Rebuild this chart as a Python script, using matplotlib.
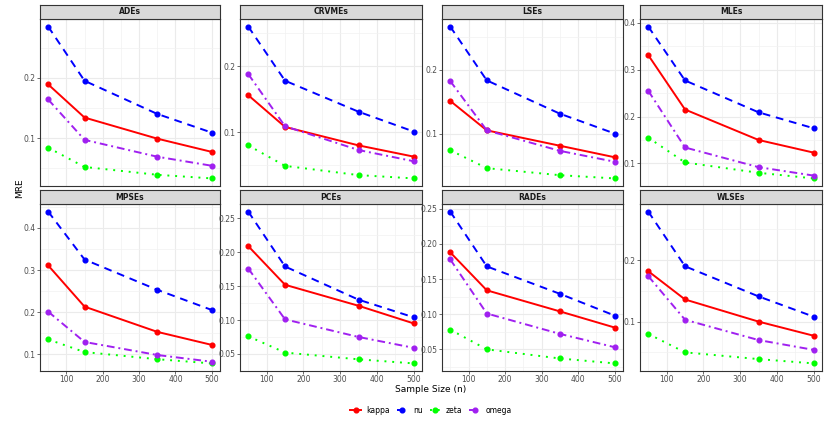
import matplotlib
matplotlib.use("Agg")
import matplotlib.pyplot as plt
import matplotlib.ticker as mticker
import numpy as np

# sample sizes and estimator panels
sizes = [50, 150, 350, 500]
methods = ["ADEs", "CRVMEs", "LSEs", "MLEs", "MPSEs", "PCEs", "RADEs", "WLSEs"]

# MRE per parameter, one list per panel
kappa = {
    "ADEs":   [0.189, 0.134, 0.099, 0.077],
    "CRVMEs": [0.156, 0.108, 0.080, 0.063],
    "LSEs":   [0.151, 0.105, 0.081, 0.063],
    "MLEs":   [0.331, 0.215, 0.150, 0.123],
    "MPSEs":  [0.311, 0.213, 0.153, 0.122],
    "PCEs":   [0.209, 0.152, 0.121, 0.095],
    "RADEs":  [0.188, 0.134, 0.104, 0.081],
    "WLSEs":  [0.182, 0.136, 0.100, 0.077],
}
nu = {
    "ADEs":   [0.285, 0.195, 0.140, 0.109],
    "CRVMEs": [0.260, 0.178, 0.131, 0.101],
    "LSEs":   [0.267, 0.183, 0.131, 0.100],
    "MLEs":   [0.392, 0.277, 0.209, 0.175],
    "MPSEs":  [0.439, 0.325, 0.253, 0.205],
    "PCEs":   [0.260, 0.179, 0.130, 0.104],
    "RADEs":  [0.246, 0.168, 0.129, 0.098],
    "WLSEs":  [0.279, 0.190, 0.141, 0.108],
}
zeta = {
    "ADEs":   [0.084, 0.052, 0.039, 0.033],
    "CRVMEs": [0.080, 0.049, 0.035, 0.030],
    "LSEs":   [0.074, 0.046, 0.035, 0.030],
    "MLEs":   [0.155, 0.102, 0.080, 0.068],
    "MPSEs":  [0.135, 0.105, 0.088, 0.078],
    "PCEs":   [0.076, 0.052, 0.042, 0.036],
    "RADEs":  [0.078, 0.050, 0.037, 0.030],
    "WLSEs":  [0.080, 0.050, 0.039, 0.032],
}
omega = {
    "ADEs":   [0.164, 0.097, 0.069, 0.054],
    "CRVMEs": [0.188, 0.109, 0.073, 0.056],
    "LSEs":   [0.182, 0.105, 0.073, 0.056],
    "MLEs":   [0.255, 0.134, 0.092, 0.074],
    "MPSEs":  [0.201, 0.129, 0.098, 0.082],
    "PCEs":   [0.176, 0.101, 0.075, 0.059],
    "RADEs":  [0.178, 0.101, 0.072, 0.053],
    "WLSEs":  [0.174, 0.103, 0.070, 0.054],
}

series = [
    ("kappa", kappa, "#FF0000", "-"),
    ("nu", nu, "#0000FF", (0, (4, 3))),
    ("zeta", zeta, "#00FF00", (0, (1, 3))),
    ("omega", omega, "#A020F0", (0, (4, 2, 1, 2))),
]
# y tick step per panel (ggplot's pretty breaks)
ystep = {"ADEs": 0.1, "CRVMEs": 0.1, "LSEs": 0.1, "MLEs": 0.1,
         "MPSEs": 0.1, "PCEs": 0.05, "RADEs": 0.05, "WLSEs": 0.1}

W, H = 836, 423
fig = plt.figure(figsize=(W / 100, H / 100), dpi=100)

col_left = [40, 240, 442, 640]
col_right = [220, 422, 623, 822]
row_strip_top = [5, 190]
strip_h = 14
row_bottom = [186, 371]


def frac(x0, y0, x1, y1):
    # pixel box (top-left origin) -> figure fraction rect
    return [x0 / W, 1 - y1 / H, (x1 - x0) / W, (y1 - y0) / H]


for i, m in enumerate(methods):
    r, c = divmod(i, 4)
    x0, x1 = col_left[c], col_right[c]
    st = row_strip_top[r]
    ax = fig.add_axes(frac(x0, st + strip_h, x1, row_bottom[r]))
    sax = fig.add_axes(frac(x0, st, x1, st + strip_h))

    # strip
    sax.set_facecolor("#D9D9D9")
    sax.set_xticks([])
    sax.set_yticks([])
    for sp in sax.spines.values():
        sp.set_color("#333333")
        sp.set_linewidth(0.8)
    sax.text(0.5, 0.5, m, ha="center", va="center", fontsize=5.5,
             fontweight="bold", color="#1A1A1A", transform=sax.transAxes)

    allv = []
    for name, d, col, ls in series:
        ax.plot(sizes, d[m], color=col, linestyle=ls, linewidth=1.4,
                marker="o", markersize=3.4, label=name, zorder=3)
        allv += d[m]
    lo, hi = min(allv), max(allv)
    pad = 0.05 * (hi - lo)
    ax.set_ylim(lo - pad, hi + pad)
    ax.set_xlim(27.5, 522.5)

    step = ystep[m]
    ax.yaxis.set_major_locator(mticker.MultipleLocator(step))
    ax.yaxis.set_minor_locator(mticker.MultipleLocator(step / 2))
    ax.yaxis.set_major_formatter(
        mticker.FormatStrFormatter("%.1f" if step == 0.1 else "%.2f"))
    ax.xaxis.set_major_locator(mticker.FixedLocator([100, 200, 300, 400, 500]))
    ax.xaxis.set_minor_locator(mticker.FixedLocator([50, 150, 250, 350, 450]))

    ax.grid(True, which="major", color="#EBEBEB", linewidth=0.8, zorder=0)
    ax.grid(True, which="minor", color="#F2F2F2", linewidth=0.5, zorder=0)
    ax.set_axisbelow(True)
    for sp in ax.spines.values():
        sp.set_color("#333333")
        sp.set_linewidth(0.8)
    ax.tick_params(which="major", length=2, width=0.5, color="#333333",
                   labelsize=5.5, labelcolor="#4D4D4D", pad=1)
    ax.tick_params(which="minor", length=0)
    if r == 0:
        ax.tick_params(axis="x", which="major", length=0, labelbottom=False)

fig.text(431 / W, 1 - 389 / H, "Sample Size (n)", ha="center", va="center",
         fontsize=6.5)
fig.text(20 / W, 1 - 188 / H, "MRE", ha="center", va="center", rotation=90,
         fontsize=6.5)

handles, labels = fig.axes[0].get_legend_handles_labels()
fig.legend(handles, labels, loc="center", bbox_to_anchor=(431 / W, 1 - 410 / H),
           ncol=4, frameon=False, fontsize=5.5, handlelength=1.4,
           columnspacing=0.9, handletextpad=0.7)

fig.savefig("out.png", dpi=100)
